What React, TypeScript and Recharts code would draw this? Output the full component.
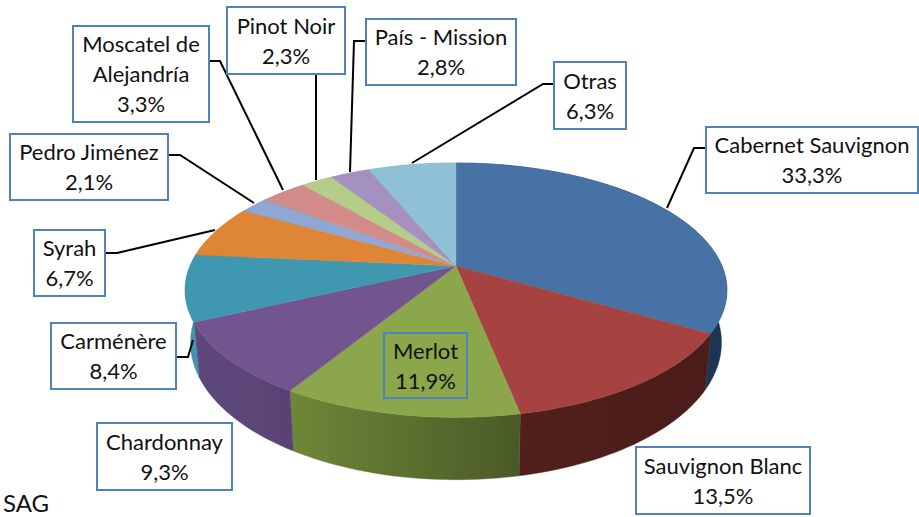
import React from 'react';
import { PieChart, Pie } from 'recharts';

const categories = ['Cabernet Sauvignon', 'Sauvignon Blanc', 'Merlot', 'Chardonnay', 'Carménère', 'Syrah', 'Pedro Jiménez', 'Moscatel de|Alejandría', 'Pinot Noir', 'País - Mission', 'Otras'];
const shares = [33.3, 13.5, 11.9, 9.3, 8.4, 6.7, 2.1, 3.3, 2.3, 2.8, 6.3];
const topColors = ['#4672A6', '#A64340', '#8BA64B', '#72558F', '#3F97B0', '#DF8536', '#8EA7D4', '#D28B89', '#B5CD88', '#A491BF', '#8EC1D6'];
const wallLeft = ['#1E3B5E', '#521F1C', '#6F8738', '#5E477B', '#3F93AB', '#B06A2B', '#7085A8', '#A66D6C', '#8FA26B', '#826F98', '#6F98A9'];
const wallRight = ['#1A3555', '#4A1C1A', '#4A5A27', '#5A4374', '#3F93AB', '#B06A2B', '#7085A8', '#A66D6C', '#8FA26B', '#826F98', '#6F98A9'];

// [x, y, width, height] of each callout box
const boxes = [
  [706, 127, 212, 66], [636, 447, 174, 67], [384, 333, 83, 65], [97, 423, 135, 67],
  [51, 323, 125, 66], [34, 230, 71, 66], [10, 134, 158, 66], [73, 26, 136, 96],
  [227, 7, 118, 67], [366, 19, 150, 66], [554, 62, 72, 67],
];
// leader line polylines
const leaders = [
  '706,148 694,148 667,208', '', '', '',
  '176,357 188,357 193,340', '105,253 117,253 215,230', '168,155 180,155 254,203', '209,61 220,61 283,190',
  '316,74 316,180', '366,41 354,41 350,172', '554,84 543,84 412,163',
];

const data = categories.map((name, i) => ({ name, value: shares[i], fill: topColors[i] }));

const KT = -0.19;       // perspective strength
const SQUASH = 0.461;   // vertical foreshortening
const DEPTH = 50.5;     // wall height
const LOWER = 0.98;     // lower-rim shrink

function rim(cx: number, cy: number, R: number, deg: number, lower = false) {
  const rad = (deg * Math.PI) / 180;
  const X = Math.cos(rad);
  const t = -Math.sin(rad);
  const d = 1 + KT * t;
  return {
    x: cx + (R * X * (lower ? LOWER : 1)) / d,
    y: cy + (R * SQUASH * t) / d + (lower ? DEPTH / d : 0),
  };
}

function arc(cx: number, cy: number, R: number, a0: number, a1: number, lower = false) {
  const n = Math.max(2, Math.ceil(Math.abs(a1 - a0) / 1.5));
  const out: string[] = [];
  for (let i = 0; i <= n; i++) {
    const p = rim(cx, cy, R, a0 + ((a1 - a0) * i) / n, lower);
    out.push(`${p.x.toFixed(2)} ${p.y.toFixed(2)}`);
  }
  return out;
}

function TopFace(p: any) {
  const pts = arc(p.cx, p.cy, p.outerRadius, p.startAngle, p.endAngle);
  return <path d={`M${p.cx} ${p.cy}L${pts.join('L')}Z`} fill={topColors[p.index]} stroke={topColors[p.index]} strokeWidth={0.4} />;
}

function Wall(p: any) {
  const up = arc(p.cx, p.cy, p.outerRadius, p.startAngle, p.endAngle);
  const lo = arc(p.cx, p.cy, p.outerRadius, p.endAngle, p.startAngle, true);
  const xs = up.map((s) => parseFloat(s));
  const id = `wall${p.index}`;
  return (
    <g>
      <defs>
        <linearGradient id={id} gradientUnits="userSpaceOnUse" x1={Math.min(...xs)} x2={Math.max(...xs)} y1={0} y2={0}>
          <stop offset="0" stopColor={wallLeft[p.index]} />
          <stop offset="1" stopColor={wallRight[p.index]} />
        </linearGradient>
      </defs>
      <path d={`M${up.join('L')}L${lo.join('L')}Z`} fill={`url(#${id})`} stroke={`url(#${id})`} strokeWidth={0.4} />
    </g>
  );
}

const FONT = 'Lato, Carlito, sans-serif';

function Callout(p: any) {
  const i = p.index;
  const [x, y, w, h] = boxes[i];
  const lines = [...categories[i].split('|'), `${shares[i].toFixed(1).replace('.', ',')}%`];
  const lh = 30;
  const first = y + h / 2 - ((lines.length - 1) * lh) / 2;
  return (
    <g>
      {leaders[i] && <polyline points={leaders[i]} fill="none" stroke="#000" strokeWidth={2} />}
      <rect x={x} y={y} width={w} height={h} fill={i === 2 ? 'none' : '#fff'} stroke="#4F81BD" strokeWidth={2} />
      {lines.map((l, k) => (
        <text key={k} x={x + w / 2} y={first + k * lh - 0.5} textAnchor="middle" dominantBaseline="central" fontFamily={FONT} fontSize={22} fill="#111">{l}</text>
      ))}
    </g>
  );
}

export default function App() {
  return (
    <div style={{ position: 'fixed', left: 0, top: 0, width: 919, height: 517, background: '#fff', overflow: 'hidden' }}>
      <PieChart width={919} height={517} margin={{ top: 0, right: 0, bottom: 0, left: 0 }}>
        <Pie data={data} dataKey="value" nameKey="name" cx={456} cy={266} innerRadius={0} outerRadius={266} startAngle={90} endAngle={-270} isAnimationActive={false} shape={Wall} stroke="none" />
        <Pie data={data} dataKey="value" nameKey="name" cx={456} cy={266} innerRadius={0} outerRadius={266} startAngle={90} endAngle={-270} isAnimationActive={false} shape={TopFace} stroke="none" label={Callout} labelLine={false} />
        <text x={3} y={512} fontFamily={FONT} fontSize={24} fill="#111">SAG</text>
      </PieChart>
    </div>
  );
}
